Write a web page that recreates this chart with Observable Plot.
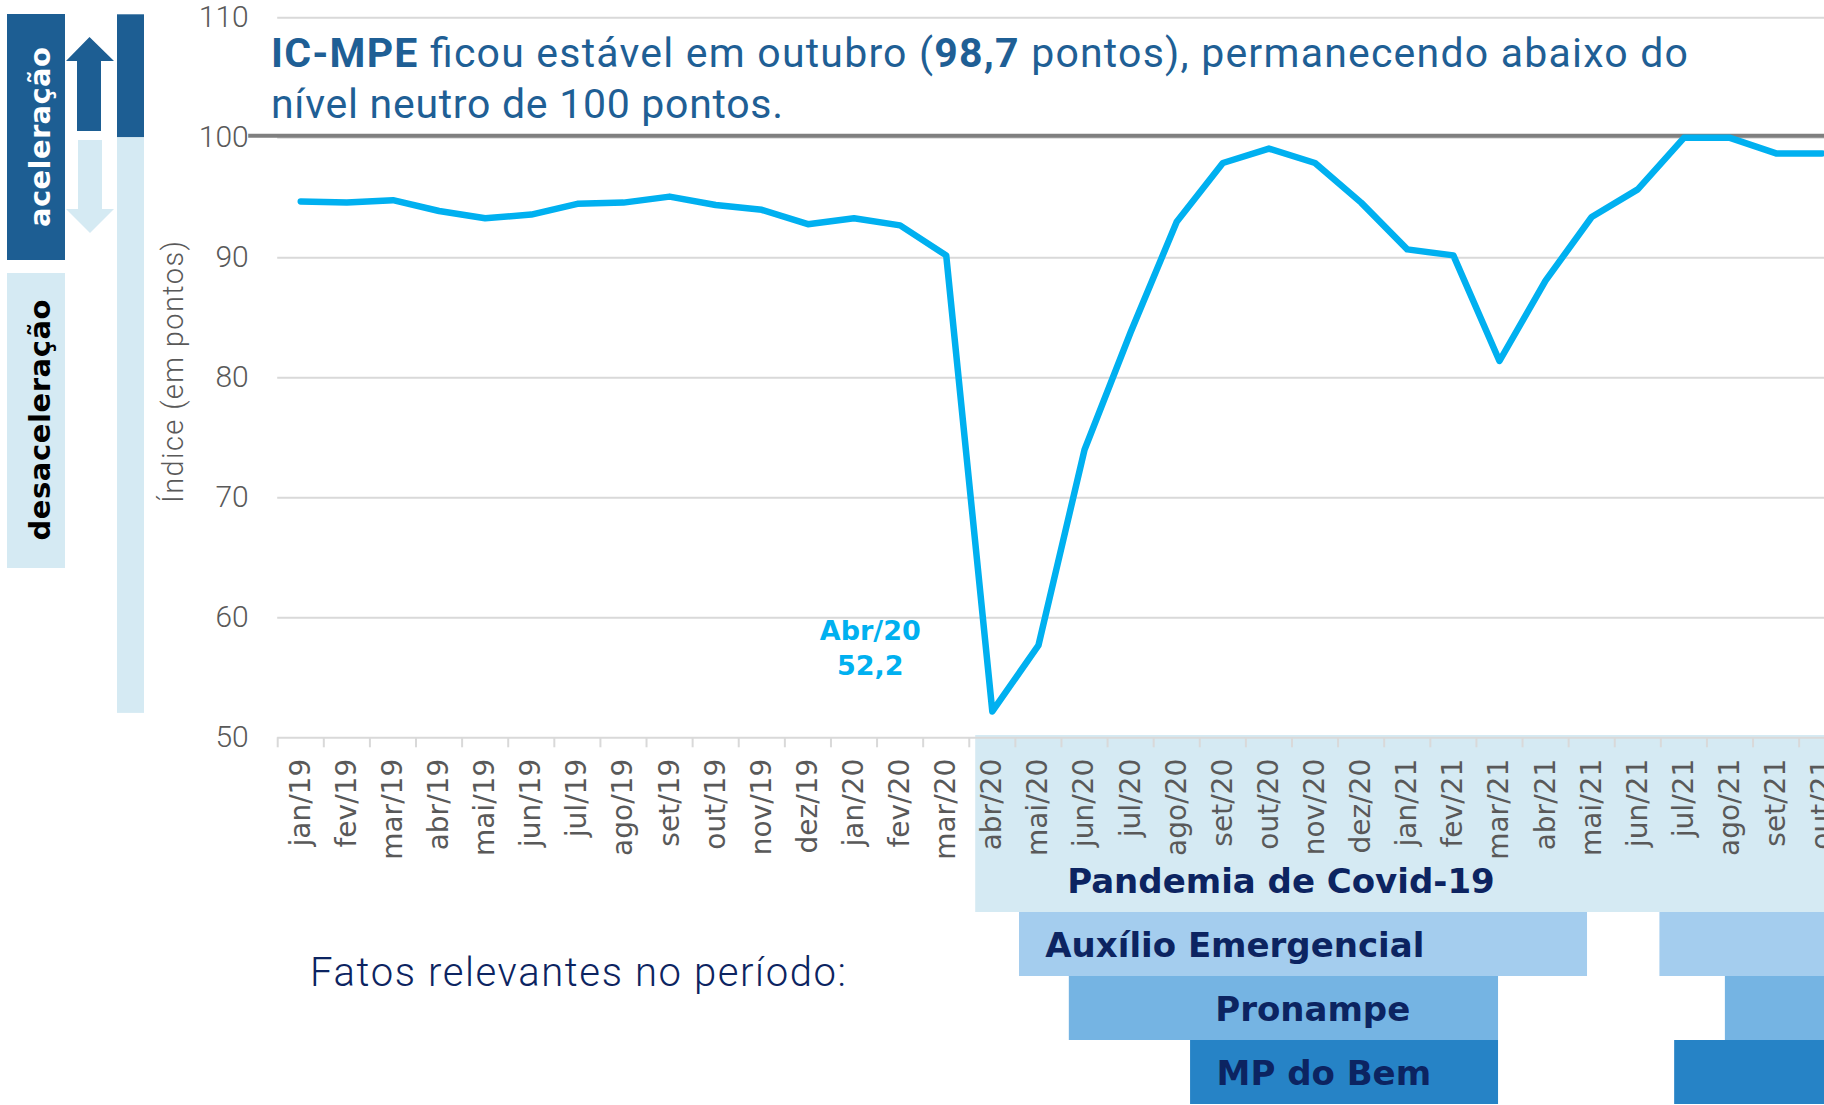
<!DOCTYPE html>
<html><head><meta charset="utf-8">
<script src="https://cdn.jsdelivr.net/npm/d3@7"></script>
<script src="https://cdn.jsdelivr.net/npm/@observablehq/plot@0.6"></script>
<style>
html,body{margin:0;padding:0;background:#fff;}
#wrap{position:relative;width:1824px;height:1105px;overflow:hidden;background:#fff;}
#wrap > *{position:absolute;left:0;top:0;}
</style></head><body>
<div id="wrap"></div>
<script>
// ---- data ----
const months = ["jan/19","fev/19","mar/19","abr/19","mai/19","jun/19","jul/19","ago/19","set/19","out/19","nov/19","dez/19",
  "jan/20","fev/20","mar/20","abr/20","mai/20","jun/20","jul/20","ago/20","set/20","out/20","nov/20","dez/20",
  "jan/21","fev/21","mar/21","abr/21","mai/21","jun/21","jul/21","ago/21","set/21","out/21"];
const values = [94.7,94.6,94.8,93.9,93.3,93.6,94.5,94.6,95.1,94.4,94.0,92.8,
  93.3,92.7,90.2,52.2,57.7,74.0,83.8,93.0,97.9,99.1,97.9,94.6,
  90.7,90.2,81.4,88.1,93.4,95.7,100.0,100.0,98.7,98.7];
const yTicks = [50,60,70,80,90,100,110];
const neutralLevel = 100;
const eventNames = ["Pandemia de Covid-19","Auxílio Emergencial","Pronampe","MP do Bem"];
const eventColors = ["#D5EAF3","#A4CDEE","#75B4E3","#2683C6"];
// periods in month-index units (fractional)
const periodEvent = ["Pandemia de Covid-19","Auxílio Emergencial","Auxílio Emergencial","Pronampe","Pronampe","MP do Bem","MP do Bem"];
const periodStart = [14.64,15.59,29.48,16.67,30.90,19.30,29.80];
const periodEnd   = [34.5,27.91,34.5,25.98,34.5,25.98,34.5];
const eventLabelAt = [21.26,20.26,21.95,22.19];

// ---- build ----
const series = months.map((m,i)=>({i, month:m, value:values[i]}));
const minPoint = series.reduce((a,b)=> b.value < a.value ? b : a);
const periods = periodEvent.map((e,k)=>({event:e, start:periodStart[k], end:periodEnd[k]}));
const edges = months.map((m,i)=>i-0.5);

const W = 1824, H = 1105;
const common = {width:W, height:H, marginLeft:277.2, marginRight:0, marginTop:17.3, marginBottom:367.7};
const xDomain = [-0.5, 33.05];

const wrap = document.getElementById("wrap");

const ev = Plot.plot({
  ...common,
  style:{background:"transparent"},
  x:{type:"linear", domain:xDomain, axis:null},
  y:{type:"band", domain:eventNames, range:[846,1105], padding:0, axis:null},
  color:{domain:eventNames, range:eventColors},
  marks:[
    Plot.barX(periods.filter(d=>d.event===eventNames[0]), {x1:"start", x2:"end", y:"event", fill:"event", insetTop:-113}),
    Plot.barX(periods.filter(d=>d.event!==eventNames[0]), {x1:"start", x2:"end", y:"event", fill:"event"}),
    Plot.text(eventNames, {x:(d,k)=>eventLabelAt[k], y:d=>d, text:d=>d, dy:2,
      fontFamily:"DejaVu Sans", fontWeight:"bold", fontSize:34, fill:"#0C2461"})
  ]
});
wrap.appendChild(ev);

const fmt = v => String(v).replace(".", ",");
const cap = s => s.charAt(0).toUpperCase()+s.slice(1);

const main = Plot.plot({
  ...common,
  style:{background:"transparent"},
  x:{type:"linear", domain:xDomain, label:null},
  y:{domain:[50,110], label:null},
  marks:[
    Plot.gridY(yTicks.filter(t=>t>50), {stroke:"#D9D9D9", strokeOpacity:1, strokeWidth:2}),
    Plot.ruleY([50], {stroke:"#D9D9D9", strokeWidth:2}),
    Plot.axisX(edges, {tickSize:10, tickFormat:()=>"", stroke:"#D9D9D9", strokeWidth:2, label:null}),
    Plot.axisX(series.map(d=>d.i), {tickSize:0, tickPadding:21, tickRotate:-90, tickFormat:i=>months[i],
      fontSize:28, fontFamily:"DejaVu Sans", fill:"#595959", label:null}),
    Plot.axisY(yTicks, {tickSize:0, tickPadding:29, fontSize:30, fontFamily:"Roboto", fontWeight:300, fill:"#595959", label:null}),
    Plot.ruleY([neutralLevel], {stroke:"#7F7F7F", strokeWidth:4, insetLeft:-29, dy:-2}),
    Plot.line(series, {x:"i", y:"value", stroke:"#00B0F0", strokeWidth:6.5, strokeLinejoin:"round"}),
    Plot.text([minPoint], {x:"i", y:"value", text:d=>cap(d.month)+"\n"+fmt(d.value), dx:-122, dy:-65,
      lineAnchor:"middle", lineHeight:1.3, fontSize:27, fontWeight:"bold", fontFamily:"DejaVu Sans", fill:"#00B0F0"})
  ]
});
wrap.appendChild(main);

// ---- overlay: left indicator, title, notes ----
const yS = main.scale("y");
const dark = "#1D5E93", light = "#D5EAF3";
const svg = d3.create("svg").attr("width",W).attr("height",H).style("background","transparent").style("pointer-events","none");
svg.append("rect").attr("x",7).attr("y",14).attr("width",58).attr("height",246).attr("fill",dark);
svg.append("rect").attr("x",7).attr("y",273).attr("width",58).attr("height",295).attr("fill",light);
svg.append("polygon").attr("points","89.5,37 114,61 101,61 101,131 77,131 77,61 66,61").attr("fill",dark);
svg.append("polygon").attr("points","78,140 102,140 102,209 114,209 90,233 66,209 78,209").attr("fill",light);
svg.append("rect").attr("x",117).attr("y",yS.apply(110)-3).attr("width",27).attr("height",yS.apply(neutralLevel)-yS.apply(110)+3).attr("fill",dark);
svg.append("rect").attr("x",117).attr("y",yS.apply(neutralLevel)).attr("width",27).attr("height",yS.apply(minPoint.value)-yS.apply(neutralLevel)+2).attr("fill",light);

svg.append("text").attr("transform","translate(50,137) rotate(-90)").attr("text-anchor","middle")
  .attr("font-family","DejaVu Sans").attr("font-weight","bold").attr("font-size",29).attr("fill","#fff")
  .attr("textLength",180).attr("lengthAdjust","spacing").text("aceleração");
svg.append("text").attr("transform","translate(50,420) rotate(-90)").attr("text-anchor","middle")
  .attr("font-family","DejaVu Sans").attr("font-weight","bold").attr("font-size",29).attr("fill","#000")
  .attr("textLength",241).attr("lengthAdjust","spacing").text("desaceleração");
svg.append("text").attr("transform","translate(183,372) rotate(-90)").attr("text-anchor","middle")
  .attr("font-family","Roboto").attr("font-weight",300).attr("font-size",29).attr("fill","#595959")
  .attr("textLength",262).attr("lengthAdjust","spacing").text("Índice (em pontos)");

const t1 = svg.append("text").attr("x",271).attr("y",67).attr("font-family","Roboto").attr("font-size",41).attr("fill","#1F5F95")
  .attr("textLength",1417).attr("lengthAdjust","spacing");
t1.append("tspan").attr("font-weight",700).text("IC-MPE");
t1.append("tspan").attr("font-weight",400).text(" ficou estável em outubro (");
t1.append("tspan").attr("font-weight",700).text(fmt(values[values.length-1]));
t1.append("tspan").attr("font-weight",400).text(" pontos), permanecendo abaixo do");
svg.append("text").attr("x",271).attr("y",118).attr("font-family","Roboto").attr("font-size",41).attr("fill","#1F5F95")
  .attr("textLength",512).attr("lengthAdjust","spacing").text("nível neutro de "+neutralLevel+" pontos.");
svg.append("text").attr("x",310).attr("y",986).attr("font-family","Roboto").attr("font-weight",300).attr("font-size",40).attr("fill","#0C2461")
  .attr("textLength",536).attr("lengthAdjust","spacing").text("Fatos relevantes no período:");
wrap.appendChild(svg.node());
</script>
</body></html>
